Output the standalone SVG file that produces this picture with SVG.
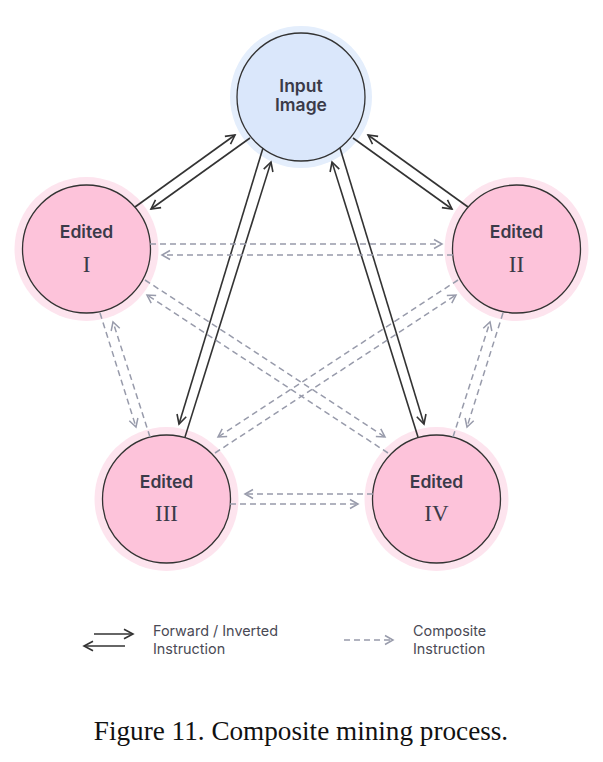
<svg xmlns="http://www.w3.org/2000/svg" width="603" height="762" viewBox="0 0 603 762">
<style>
.halo-b{fill:#e4eefc}
.fill-b{fill:#dae7fb;stroke:#333;stroke-width:1.3}
.halo-p{fill:#fde4ee}
.fill-p{fill:#fdc3da;stroke:#333;stroke-width:1.3}
.lbl{font-family:Inter,"Open Sans",sans-serif;font-weight:600;font-size:17.5px;fill:#3a3a48;text-anchor:middle}
.num{font-family:"Liberation Serif",serif;font-size:23px;fill:#3a3a48;text-anchor:middle}
.solid{fill:none;stroke:#333;stroke-width:1.6;marker-end:url(#ah)}
.dash{fill:none;stroke:#989bab;stroke-width:1.5;stroke-dasharray:6 4;marker-end:url(#ahd)}
.leg{font-family:Inter,"Open Sans",sans-serif;font-size:14.4px;fill:#4a4a55;}
.cap{font-family:"Liberation Serif",serif;font-size:27.2px;fill:#111;text-anchor:middle}
</style>
<defs>
<marker id="ah" markerUnits="userSpaceOnUse" viewBox="-12 -7 14 14" markerWidth="14" markerHeight="14" refX="0" refY="0" orient="auto" overflow="visible">
<path d="M-9,-4.8 L0,0 L-9,4.8" fill="none" stroke="#333" stroke-width="1.6"/>
</marker>
<marker id="ahd" markerUnits="userSpaceOnUse" viewBox="-12 -7 14 14" markerWidth="14" markerHeight="14" refX="0" refY="0" orient="auto" overflow="visible">
<path d="M-8,-4.5 L0,0 L-8,4.5" fill="none" stroke="#989bab" stroke-width="1.5"/>
</marker>
</defs>
<rect width="603" height="762" fill="#fff"/>
<g id="input">
<circle class="halo-b" cx="301" cy="97" r="71"/>
<circle class="fill-b" cx="301" cy="97" r="64"/>
<text class="lbl" x="301" y="92">Input</text>
<text class="lbl" x="301" y="111">Image</text>
</g>
<g id="edited1">
<circle class="halo-p" cx="86.5" cy="249" r="72"/>
<circle class="fill-p" cx="86.5" cy="249" r="64"/>
<text class="lbl" x="86.5" y="238">Edited</text>
<text class="num" x="86.5" y="272">I</text>
</g>
<g id="edited2">
<circle class="halo-p" cx="516.5" cy="249" r="72"/>
<circle class="fill-p" cx="516.5" cy="249" r="64"/>
<text class="lbl" x="516.5" y="238">Edited</text>
<text class="num" x="516.5" y="272">II</text>
</g>
<g id="edited3">
<circle class="halo-p" cx="166.5" cy="499" r="72"/>
<circle class="fill-p" cx="166.5" cy="499" r="64"/>
<text class="lbl" x="166.5" y="488">Edited</text>
<text class="num" x="166.5" y="521">III</text>
</g>
<g id="edited4">
<circle class="halo-p" cx="436.5" cy="499" r="72"/>
<circle class="fill-p" cx="436.5" cy="499" r="64"/>
<text class="lbl" x="436.5" y="488">Edited</text>
<text class="num" x="436.5" y="521">IV</text>
</g>
<g id="connectors">
<line class="solid" x1="135" y1="207" x2="235" y2="135"/>
<line class="solid" x1="250" y1="138" x2="151" y2="209"/>
<line class="solid" x1="468" y1="207" x2="368" y2="135"/>
<line class="solid" x1="353" y1="138" x2="452" y2="209"/>
<line class="solid" x1="263" y1="148" x2="179" y2="424"/>
<line class="solid" x1="185" y1="437" x2="271" y2="162"/>
<line class="solid" x1="340" y1="148" x2="424" y2="424"/>
<line class="solid" x1="418" y1="437" x2="332" y2="162"/>
<line class="dash" x1="150" y1="244" x2="442" y2="244"/>
<line class="dash" x1="453" y1="255" x2="162" y2="255"/>
<line class="dash" x1="230" y1="504" x2="358" y2="504"/>
<line class="dash" x1="373" y1="494" x2="245" y2="494"/>
<line class="dash" x1="100" y1="313" x2="136" y2="427"/>
<line class="dash" x1="150" y1="437" x2="113" y2="322"/>
<line class="dash" x1="503" y1="313" x2="467" y2="427"/>
<line class="dash" x1="453" y1="437" x2="490" y2="322"/>
<line class="dash" x1="145" y1="280" x2="385" y2="437"/>
<line class="dash" x1="388" y1="453" x2="147" y2="295"/>
<line class="dash" x1="458" y1="280" x2="218" y2="437"/>
<line class="dash" x1="215" y1="453" x2="456" y2="295"/>
</g>
<g id="legend">
<line class="solid" x1="94" y1="634" x2="133" y2="634"/>
<line class="solid" x1="125" y1="646" x2="84" y2="646"/>
<text class="leg" x="153" y="636">Forward / Inverted</text>
<text class="leg" x="153" y="654">Instruction</text>
<line class="dash" x1="344" y1="640" x2="393" y2="640"/>
<text class="leg" x="413" y="636">Composite</text>
<text class="leg" x="413" y="654">Instruction</text>
</g>
<text class="cap" x="301" y="740">Figure 11. Composite mining process.</text>
</svg>
